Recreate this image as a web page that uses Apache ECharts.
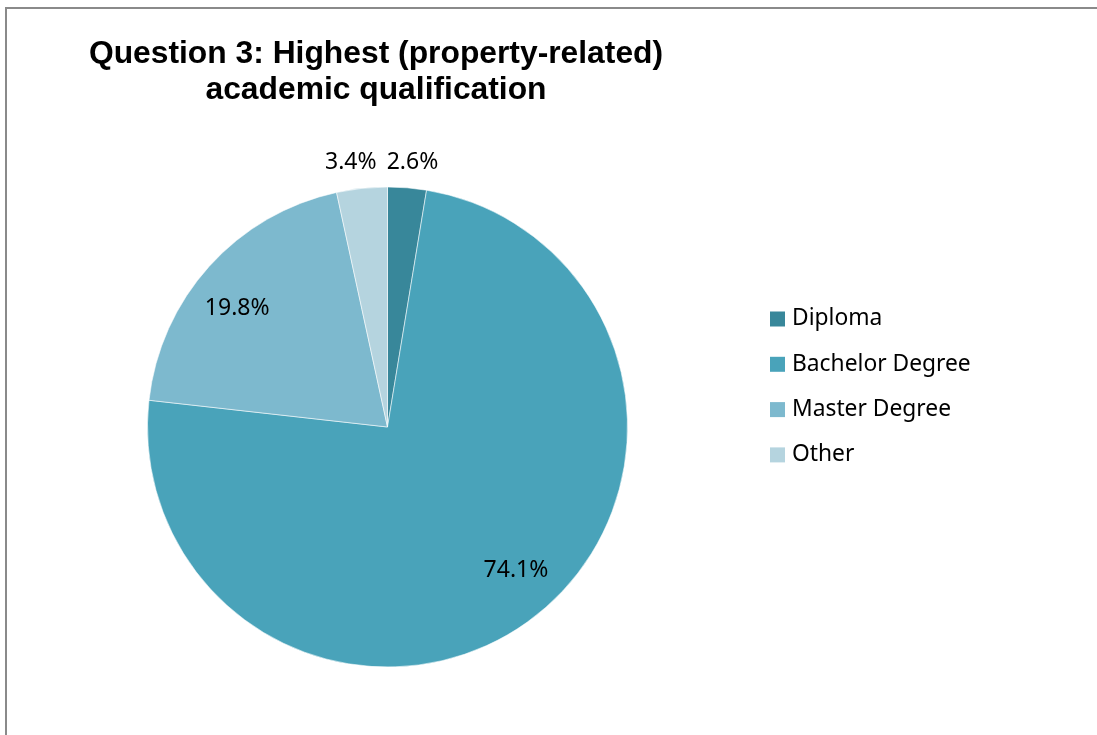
<!DOCTYPE html>
<html>
<head>
<meta charset="utf-8">
<script src="https://cdn.jsdelivr.net/npm/echarts@6/dist/echarts.min.js"></script>
<style>
  html, body { margin: 0; padding: 0; background: #fff; }
  #chart { width: 1097px; height: 735px; }
</style>
</head>
<body>
<div id="chart"></div>
<script>
// Survey answers: highest property-related academic qualification (%)
const categories = ['Diploma', 'Bachelor Degree', 'Master Degree', 'Other'];
const shares = [2.6, 74.1, 19.8, 3.4];
const sliceColors = ['#38879A', '#49A3BA', '#7DB9CE', '#B5D4DF'];

// Which slices carry their label inside the pie, and which just past its rim
const labelInside = [false, true, true, false];
const labelNudge = [[3, 4], [12, -10], [-7, 11], [-8, 3]];

const CENTER = [387.5, 427];
const R = 240;
const labelFont = { fontFamily: 'Noto Sans', fontSize: 23, color: '#000' };

const fmt = p => p.value.toFixed(1) + '%';

const slices = categories.map((name, i) => ({
  name,
  value: shares[i],
  itemStyle: { color: sliceColors[i] }
}));

// Transparent ring whose mid-radius is where a group of labels sits
function labelRing(radius, pickInside) {
  return {
    type: 'pie',
    silent: true,
    center: CENTER,
    radius: radius,
    startAngle: 90,
    clockwise: true,
    avoidLabelOverlap: false,
    itemStyle: { color: 'rgba(0,0,0,0)', borderWidth: 0 },
    emphasis: { disabled: true },
    labelLine: { show: false },
    data: categories.map((name, i) => ({
      name,
      value: shares[i],
      label: {
        show: labelInside[i] === pickInside,
        position: 'inside',
        offset: labelNudge[i],
        formatter: fmt,
        ...labelFont
      }
    }))
  };
}

const chart = echarts.init(document.getElementById('chart'), null, { renderer: 'canvas' });

chart.setOption({
  animation: false,
  backgroundColor: '#fff',
  graphic: [
    {
      type: 'rect',
      shape: { x: 6, y: 8, width: 1200, height: 900 },
      style: { fill: 'none', stroke: '#8a8a8a', lineWidth: 2 },
      silent: true
    },
    {
      type: 'text',
      x: 376,
      y: 36,
      style: {
        text: 'Question 3: Highest (property-related)\nacademic qualification',
        font: 'bold 31.8px "Liberation Sans", Arial, sans-serif',
        fill: '#000',
        align: 'center',
        verticalAlign: 'top',
        lineHeight: 36
      },
      silent: true
    }
  ],
  legend: {
    orient: 'vertical',
    left: 770,
    top: 307.5,
    padding: 0,
    data: categories,
    icon: 'rect',
    itemWidth: 15,
    itemHeight: 15,
    itemGap: 22.3,
    itemStyle: { borderWidth: 0 },
    selectedMode: false,
    textStyle: { fontFamily: 'Noto Sans', fontSize: 22.8, color: '#000', lineHeight: 23, padding: [0, 0, 0, 2] }
  },
  series: [
    {
      type: 'pie',
      name: 'Qualification',
      center: CENTER,
      radius: R,
      startAngle: 90,
      clockwise: true,
      label: { show: false },
      labelLine: { show: false },
      emphasis: { disabled: true },
      itemStyle: { borderColor: 'rgba(255,255,255,0.55)', borderWidth: 1 },
      data: slices
    },
    labelRing([140, R], true),
    labelRing([R, 292], false)
  ]
});
</script>
</body>
</html>
